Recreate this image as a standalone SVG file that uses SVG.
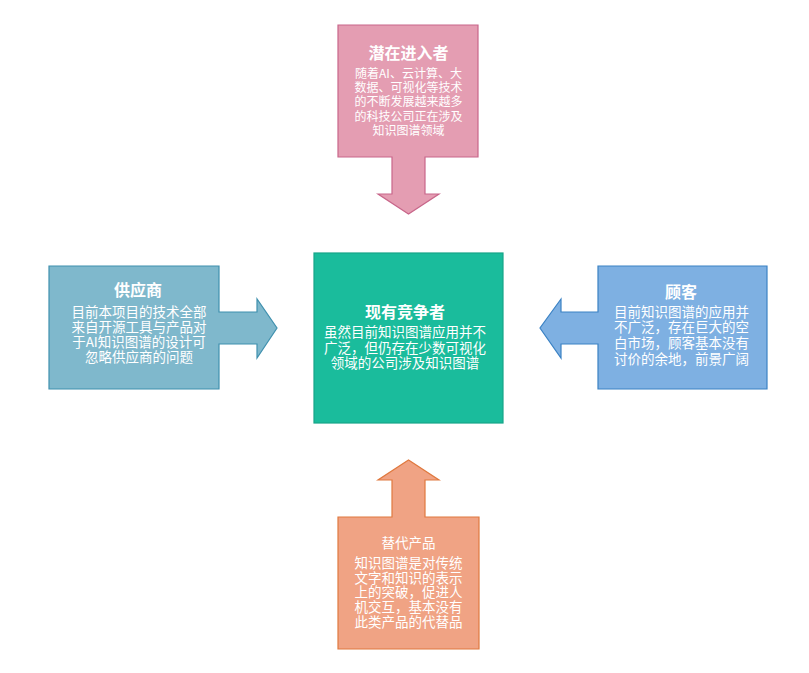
<svg xmlns="http://www.w3.org/2000/svg" width="809" height="673" viewBox="0 0 809 673">
<style>
.t{font-family:"Noto Sans CJK SC","Liberation Sans",sans-serif;fill:#fff;text-anchor:middle}
.h{font-size:16px;font-weight:bold}
.b{font-size:13.5px}
.s{font-size:12px}
.sh{stroke-width:1.2}
</style>
<rect width="809" height="673" fill="#fff"/>
<g id="connectors"></g>
<g id="entrants">
<path class="sh" d="M338,25 H478 V157 H425 V194 H439 L408.5,214 L378,194 H392 V157 H338 Z" fill="#E49DB2" stroke="#C8668A"/>
<text class="t h" x="408.5" y="59.4">潜在进入者</text>
<text class="t s" x="408.5" y="77.9">随着AI、云计算、大</text>
<text class="t s" x="408.5" y="92.1">数据、可视化等技术</text>
<text class="t s" x="408.5" y="106.3">的不断发展越来越多</text>
<text class="t s" x="408.5" y="120.5">的科技公司正在涉及</text>
<text class="t s" x="408.5" y="134.7">知识图谱领域</text>
</g>
<g id="suppliers">
<path class="sh" d="M49,266 H219 V312 H257 V299 L277,328 L257,358 V344 H219 V389 H49 Z" fill="#7FB8CC" stroke="#3F90AE"/>
<text class="t h" x="138" y="296">供应商</text>
<text class="t b" x="139" y="316.8">目前本项目的技术全部</text>
<text class="t b" x="139" y="331.8">来自开源工具与产品对</text>
<text class="t b" x="139" y="346.8">于AI知识图谱的设计可</text>
<text class="t b" x="139" y="361.8">忽略供应商的问题</text>
</g>
<g id="competitors">
<rect class="sh" x="314" y="253" width="189" height="170" fill="#1ABC9C" stroke="#17A589"/>
<text class="t h" x="405" y="317.8">现有竞争者</text>
<text class="t b" x="405" y="336.8">虽然目前知识图谱应用并不</text>
<text class="t b" x="405" y="352.5">广泛，但仍存在少数可视化</text>
<text class="t b" x="405" y="368.1">领域的公司涉及知识图谱</text>
</g>
<g id="customers">
<path class="sh" d="M598,266 H767 V389 H598 V344 H561 V358 L540,328 L561,299 V312 H598 Z" fill="#7EB0E2" stroke="#3B82C4"/>
<text class="t h" x="681" y="297.8">顾客</text>
<text class="t b" x="681.5" y="316.8">目前知识图谱的应用并</text>
<text class="t b" x="681.5" y="332.4">不广泛，存在巨大的空</text>
<text class="t b" x="681.5" y="348.1">白市场，顾客基本没有</text>
<text class="t b" x="681.5" y="363.7">讨价的余地，前景广阔</text>
</g>
<g id="substitutes">
<path class="sh" d="M338,517 H392 V480 H378 L408.5,460 L439,480 H425 V517 H479 V649 H338 Z" fill="#F0A384" stroke="#E0793F"/>
<text class="t b" x="408.5" y="548.1">替代产品</text>
<text class="t b" x="408.5" y="568.1">知识图谱是对传统</text>
<text class="t b" x="408.5" y="582.8">文字和知识的表示</text>
<text class="t b" x="408.5" y="597.4">上的突破，促进人</text>
<text class="t b" x="408.5" y="612.1">机交互，基本没有</text>
<text class="t b" x="408.5" y="626.8">此类产品的代替品</text>
</g>
</svg>
